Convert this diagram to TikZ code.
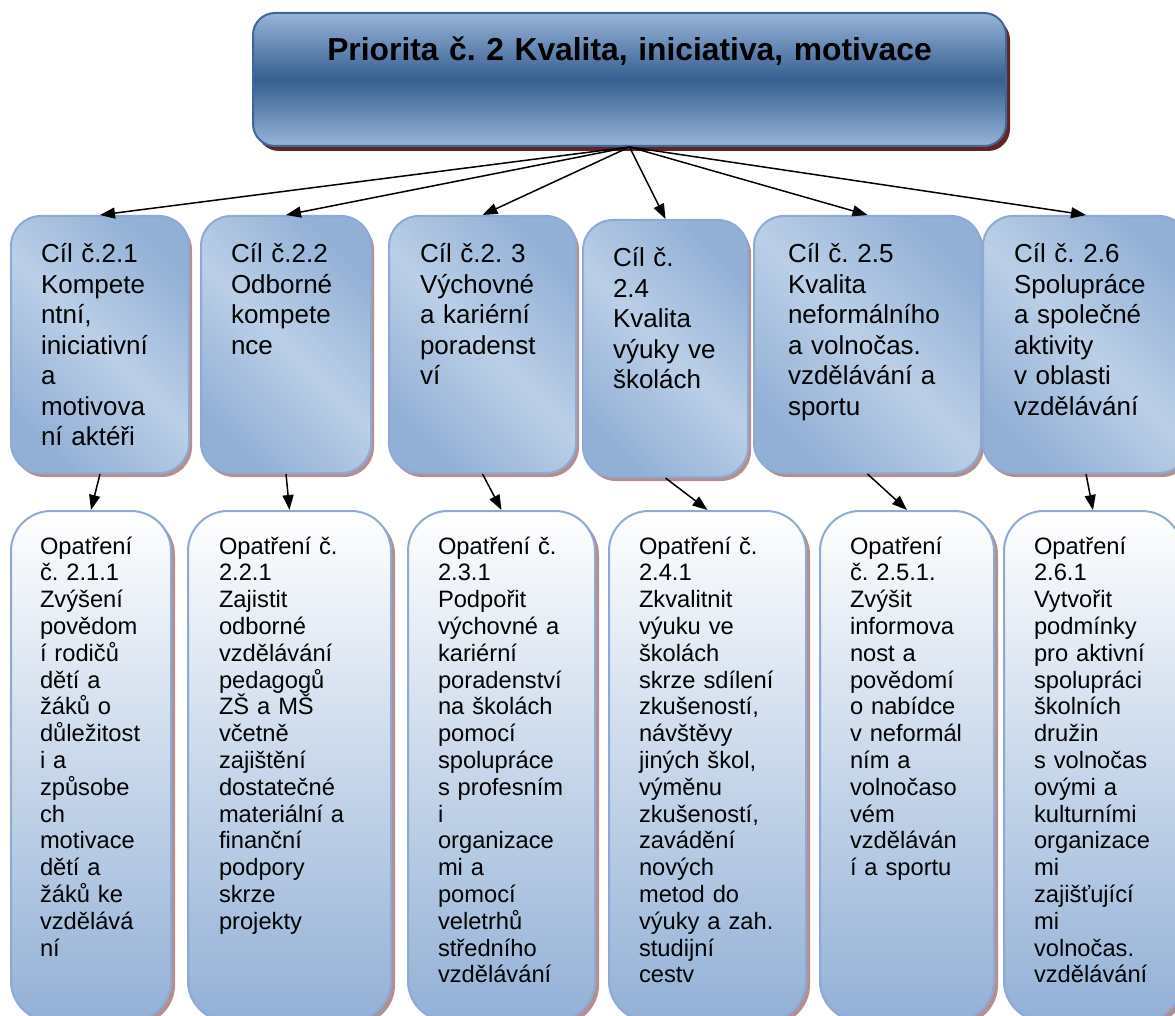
\documentclass[tikz,border=0pt]{standalone}
\usepackage{fontspec}
\setmainfont{Liberation Sans}
\usetikzlibrary{arrows.meta,shadows}
\frenchspacing

\definecolor{prioritatmava}{HTML}{365F91}
\definecolor{prioritasvetla}{HTML}{97B4D8}
\definecolor{prioritaokraj}{HTML}{41679A}
\definecolor{prioritastin}{HTML}{632523}
\definecolor{cilsvetla}{HTML}{BBCFE7}
\definecolor{ciltmava}{HTML}{92B0D6}
\definecolor{okraj}{HTML}{8EAAD4}
\definecolor{stin}{HTML}{B48F8F}

\tikzset{
  priorita/.style={anchor=north west, draw=prioritaokraj, line width=2pt,
    rounded corners=22pt, top color=prioritasvetla, bottom color=prioritasvetla,
    middle color=prioritatmava,
    drop shadow={shadow xshift=4pt, shadow yshift=-5pt, fill=prioritastin, opacity=1},
    inner sep=0pt, align=center, text height=48pt, text depth=85pt,
    font={\fontsize{31.8}{38}\selectfont\bfseries}},
  cil/.style={anchor=north west, draw=okraj, line width=2pt, rounded corners=30pt,
    top color=ciltmava, bottom color=ciltmava, middle color=cilsvetla, shading angle=-45,
    drop shadow={shadow xshift=3pt, shadow yshift=-4pt, fill=stin, opacity=1},
    inner ysep=0pt, inner xsep=30pt, align=left, text height=47pt, text depth=210pt,
    font={\fontsize{26}{30.5}\selectfont\hyphenpenalty=10000}},
  opatreni/.style={anchor=north west, draw=okraj, line width=2pt, rounded corners=40pt,
    top color=white, bottom color=ciltmava,
    drop shadow={shadow xshift=4pt, shadow yshift=-4pt, fill=stin, opacity=1},
    inner ysep=0pt, inner xsep=30pt, align=left, text height=43pt, text depth=467pt,
    font={\fontsize{23.7}{26.8}\selectfont\hyphenpenalty=10000}},
  sipka/.style={-{Triangle[length=15pt,width=11pt]}, line width=1.5pt}
}

\begin{document}
\begin{tikzpicture}[x=1pt,y=-1pt]
  \path[use as bounding box] (0,0) rectangle (1175,1016);

  % Priorita
  \node[priorita, text width=753pt] (priorita) at (252,12) {Priorita č. 2 Kvalita, iniciativa, motivace};

  % Cile
  \node[cil, text width=118pt] (cil1) at (10,215) {Cíl č.2.1\\Kompete\\ntní,\\iniciativní\\a\\motivova\\ní aktéři};
  \node[cil, text width=110pt] (cil2) at (200,215) {Cíl č.2.2\\Odborné\\kompete\\nce};
  \node[cil, inner xsep=31pt, text width=125pt] (cil3) at (388,215) {Cíl č.2. 3\\Výchovné\\a kariérní\\poradenst\\ví};
  \node[cil, text width=105pt] (cil4) at (582,219) {Cíl č.\\2.4\\Kvalita\\výuky ve\\školách};
  \node[cil, inner xsep=34pt, text width=159pt] (cil5) at (753,215) {Cíl č. 2.5\\Kvalita\\neformálního\\a volnočas.\\vzdělávání a\\sportu};
  \node[cil, inner xsep=31pt, text width=144pt] (cil6) at (982,215) {Cíl č. 2.6\\Spolupráce\\a společné\\aktivity\\v oblasti\\vzdělávání};

  % Opatreni
  \node[opatreni, inner xsep=29pt, text width=102pt] (opat1) at (10,510) {Opatření\\č. 2.1.1\\Zvýšení\\povědom\\í rodičů\\dětí a\\žáků o\\důležitost\\i a\\způsobe\\ch\\motivace\\dětí a\\žáků ke\\vzdělává\\ní};
  \node[opatreni, inner xsep=31pt, text width=141pt] (opat2) at (187,510) {Opatření č.\\2.2.1\\Zajistit\\odborné\\vzdělávání\\pedagogů\\ZŠ a MŠ\\včetně\\zajištění\\dostatečné\\materiální a\\finanční\\podpory\\skrze\\projekty};
  \node[opatreni, text width=127pt] (opat3) at (407,510) {Opatření č.\\2.3.1\\Podpořit\\výchovné a\\kariérní\\poradenství\\na školách\\pomocí\\spolupráce\\s profesním\\i\\organizace\\mi a\\pomocí\\veletrhů\\středního\\vzdělávání};
  \node[opatreni, text width=137pt] (opat4) at (608,510) {Opatření č.\\2.4.1\\Zkvalitnit\\výuku ve\\školách\\skrze sdílení\\zkušeností,\\návštěvy\\jiných škol,\\výměnu\\zkušeností,\\zavádění\\nových\\metod do\\výuky a zah.\\studijní\\cestv};
  \node[opatreni, text width=114pt] (opat5) at (819,510) {Opatření\\č. 2.5.1.\\Zvýšit\\informova\\nost a\\povědomí\\o nabídce\\v neformál\\ním a\\volnočaso\\vém\\vzděláván\\í a sportu};
  \node[opatreni, text width=118pt] (opat6) at (1003,510) {Opatření\\2.6.1\\Vytvořit\\podmínky\\pro aktivní\\spolupráci\\školních\\družin\\s volnočas\\ovými a\\kulturními\\organizace\\mi\\zajišťující\\mi\\volnočas.\\vzdělávání};

  % Sipky
  \foreach \i in {1,...,6} {
    \draw[sipka] (priorita.south) -- (cil\i.north);
    \draw[sipka] (cil\i.south) -- (opat\i.north);
  }
\end{tikzpicture}
\end{document}
